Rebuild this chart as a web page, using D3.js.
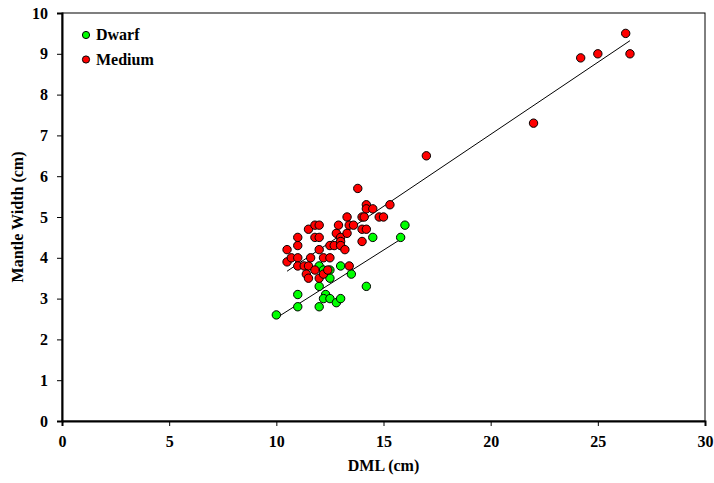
<!DOCTYPE html>
<html>
<head>
<meta charset="utf-8">
<script src="https://cdn.jsdelivr.net/npm/d3@7"></script>
<style>
  html, body { margin: 0; padding: 0; background: #fff; }
  svg text { font-family: "Liberation Serif", "Times New Roman", Times, "DejaVu Serif", serif !important; font-weight: bold; }
</style>
</head>
<body>
<svg id="chart" width="714" height="483"></svg>
<script>
// Dorsal mantle length vs. mantle width, two size groups
const dwarfDML   = [10, 11, 11, 12, 12, 12, 12.2, 12.5, 12.5, 13, 13.5, 14.2, 14.5, 15.8, 16, 12.3, 12.2, 12.5, 12.8, 13];
const dwarfWidth = [2.6, 3.1, 2.8, 2.8, 3.3, 3.8, 3.7, 3.7, 3.5, 3.8, 3.6, 3.3, 4.5, 4.5, 4.8, 3.1, 3.0, 3.0, 2.9, 3.0];

const mediumDML = [10.5, 10.5, 10.7, 11, 11, 11, 11, 11.3, 11.5, 11.4, 11.5, 11.5, 11.6, 11.8, 11.8, 12, 12, 12, 12,
  11.8, 12.2, 12.2, 12.5, 12.4, 12.5, 12.7, 12.8, 12.9, 13, 13, 13, 13.2, 13.3, 13.3, 13.4, 13.6, 13.4, 13.8,
  14, 14.1, 14, 14.2, 14, 14.2, 14.2, 14.5, 14.8, 15, 15.3, 17, 22, 24.2, 25, 26.3, 26.5];
const mediumWidth = [4.2, 3.9, 4.0, 4.0, 4.3, 4.5, 3.8, 3.8, 3.8, 3.6, 3.5, 4.7, 4.0, 4.8, 4.5, 4.8, 4.5, 4.2, 3.5,
  3.7, 3.6, 4.0, 4.0, 3.7, 4.3, 4.3, 4.6, 4.8, 4.5, 4.4, 4.3, 4.2, 4.6, 5.0, 4.8, 4.8, 3.8, 5.7,
  5.0, 5.0, 4.7, 4.7, 4.4, 5.3, 5.2, 5.2, 5.0, 5.0, 5.3, 6.5, 7.3, 8.9, 9.0, 9.5, 9.0];

const xTicks = [0, 5, 10, 15, 20, 25, 30];
const yTicks = [0, 1, 2, 3, 4, 5, 6, 7, 8, 9, 10];

const groups = [
  { name: "Dwarf",  x: dwarfDML,  y: dwarfWidth,  color: "#00ff00" },
  { name: "Medium", x: mediumDML, y: mediumWidth, color: "#ff0000" }
];

const margin = { left: 62, right: 9, top: 13, bottom: 62 };
const W = 714, H = 483;
const svg = d3.select("#chart");
const FONT = "'Liberation Serif', 'Times New Roman', Times, 'DejaVu Serif', serif";

const x = d3.scaleLinear().domain([0, 30]).range([margin.left, W - margin.right]);
const y = d3.scaleLinear().domain([0, 10]).range([H - margin.bottom, margin.top]);

// plot frame
svg.append("rect")
  .attr("x", x(0)).attr("y", y(10))
  .attr("width", x(30) - x(0)).attr("height", y(0) - y(10))
  .attr("fill", "none").attr("stroke", "#000").attr("stroke-width", 1);

// axes
const xAxis = svg.append("g")
  .attr("transform", `translate(0,${y(0)})`)
  .call(d3.axisBottom(x).tickValues(xTicks).tickSize(5).tickPadding(10).tickFormat(d3.format("d")));
const yAxis = svg.append("g")
  .attr("transform", `translate(${x(0)},0)`)
  .call(d3.axisLeft(y).tickValues(yTicks).tickSize(5).tickPadding(9).tickFormat(d3.format("d")));

[xAxis, yAxis].forEach(g => {
  g.attr("font-family", FONT).attr("font-size", 16);
  g.select(".domain").attr("stroke", "#000").attr("stroke-width", 2);
  g.selectAll(".tick line").attr("stroke", "#000").attr("stroke-width", 1);
  g.selectAll(".tick text")
    .attr("fill", "#000")
    .style("font-family", FONT)
    .style("font-weight", "bold")
    .style("font-size", "16px");
});

// least-squares fit per group, drawn across the group's DML range
function fit(xs, ys) {
  const mx = d3.mean(xs), my = d3.mean(ys);
  let sxy = 0, sxx = 0;
  xs.forEach((v, i) => { sxy += (v - mx) * (ys[i] - my); sxx += (v - mx) * (v - mx); });
  const b = sxy / sxx;
  return { b, a: my - b * mx };
}

groups.forEach(g => {
  const f = fit(g.x, g.y);
  const [x0, x1] = d3.extent(g.x);
  svg.append("line")
    .attr("x1", x(x0)).attr("y1", y(f.a + f.b * x0))
    .attr("x2", x(x1)).attr("y2", y(f.a + f.b * x1))
    .attr("stroke", "#000").attr("stroke-width", 1);
});

// points
groups.forEach(g => {
  svg.append("g").selectAll("circle")
    .data(g.x.map((v, i) => [v, g.y[i]]))
    .join("circle")
    .attr("cx", d => x(d[0]))
    .attr("cy", d => y(d[1]))
    .attr("r", 4.2)
    .attr("fill", g.color)
    .attr("stroke", "#000")
    .attr("stroke-width", 1);
});

// legend
const legend = svg.append("g");
groups.forEach((g, i) => {
  const ly = 35 + i * 24.5;
  legend.append("circle")
    .attr("cx", 86).attr("cy", ly).attr("r", 3.6)
    .attr("fill", g.color).attr("stroke", "#000").attr("stroke-width", 1);
  legend.append("text")
    .attr("x", 96).attr("y", ly + 5)
    .style("font-family", FONT)
    .style("font-size", "16px")
    .text(g.name);
});

// axis titles
svg.append("text")
  .attr("x", (x(0) + x(30)) / 2).attr("y", 471)
  .attr("text-anchor", "middle")
  .style("font-family", FONT)
  .style("font-size", "16px")
  .text("DML (cm)");

svg.append("text")
  .attr("transform", `translate(23,${(y(0) + y(10)) / 2}) rotate(-90)`)
  .attr("text-anchor", "middle")
  .style("font-family", FONT)
  .style("font-size", "16px")
  .text("Mantle Width (cm)");
</script>
</body>
</html>
